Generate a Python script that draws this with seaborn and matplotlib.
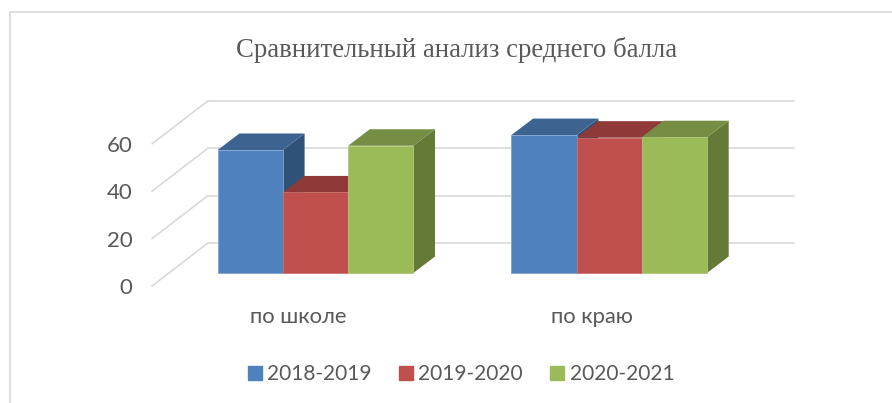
import numpy as np
import pandas as pd
import matplotlib
matplotlib.use("Agg")
import matplotlib.pyplot as plt
from matplotlib.lines import Line2D
from matplotlib.patches import Polygon
import seaborn as sns

title = "Сравнительный анализ среднего балла"
groups = ["по школе", "по краю"]
years = ["2018-2019", "2019-2020", "2020-2021"]
scores_2018 = [51.9, 58.2]
scores_2019 = [34.0, 57.1]
scores_2020 = [53.7, 57.3]
y_ticks = [0, 20, 40, 60]

front_colors = ["#4F81BD", "#C0504D", "#9BBB59"]
top_colors = ["#3D6391", "#8F3A38", "#768E44"]
side_colors = ["#305279", "#7E312F", "#667A38"]
edge_colors = ["#7FA3CF", "#CC6E6B", "#AEC878"]
text_color = "#595959"
grid_color = "#D9D9D9"

W, H = 892, 403
PX_PER_UNIT = 2.37
PX_PER_GROUP = 293.7

sns.set_theme(style="white")
plt.rcParams["font.family"] = ["Lato", "Open Sans", "DejaVu Sans"]

df = pd.DataFrame({
    "group": groups * 3,
    "year": np.repeat(years, 2),
    "score": scores_2018 + scores_2019 + scores_2020,
})

fig = plt.figure(figsize=(W / 100, H / 100), dpi=100, facecolor="white")
# plot area in pixels: floor front edge at y=286, back wall top at y=100
ax = fig.add_axes([152 / W, (H - 286) / H, 642 / W, 186 / H])

sns.barplot(data=df, x="group", y="score", hue="year", palette=front_colors,
            width=0.666, gap=0, saturation=1, errorbar=None, ax=ax, zorder=3)

ax.set_xlim((152 - 315.5) / PX_PER_GROUP, (794 - 315.5) / PX_PER_GROUP)
ax.set_ylim(-13 / PX_PER_UNIT, 173 / PX_PER_UNIT)

# fake 3d: depth of the bars and of the floor, in data units
bar_dx, bar_dy = 21.7 / PX_PER_GROUP, 16.5 / PX_PER_UNIT
front_y = -13 / PX_PER_UNIT
wall_y = 30 / PX_PER_UNIT
wall_x = ax.get_xlim()[0] + 56 / PX_PER_GROUP

for v in y_ticks:
    ax.plot([ax.get_xlim()[0], wall_x], [front_y + v, wall_y + v],
            color=grid_color, lw=1.2, zorder=1, clip_on=False)
    ax.plot([wall_x, ax.get_xlim()[1]], [wall_y + v, wall_y + v],
            color=grid_color, lw=1.2, zorder=1, clip_on=False)

for i, container in enumerate(ax.containers):
    for bar in container:
        x0, x1 = bar.get_x(), bar.get_x() + bar.get_width()
        h = bar.get_height()
        top = [(x0, h), (x1, h), (x1 + bar_dx, h + bar_dy), (x0 + bar_dx, h + bar_dy)]
        side = [(x1, 0), (x1 + bar_dx, bar_dy), (x1 + bar_dx, h + bar_dy), (x1, h)]
        ax.add_patch(Polygon(side, color=side_colors[i], lw=0, zorder=2))
        ax.add_patch(Polygon(top, color=top_colors[i], lw=0, zorder=2))
        bar.set_edgecolor(edge_colors[i])
        bar.set_linewidth(0.6)

sns.despine(ax=ax, left=True, bottom=True)
ax.set_xlabel("")
ax.set_ylabel("")
ax.set_yticks([front_y + v for v in y_ticks], [str(v) for v in y_ticks])
ax.set_xticks(np.arange(len(groups)) - 0.06, groups)
ax.tick_params(axis="y", length=0, pad=14, labelsize=16, labelcolor=text_color)
ax.tick_params(axis="x", length=0, pad=15, labelsize=15.8, labelcolor=text_color)

handles = [plt.Rectangle((0, 0), 1, 1, color=c) for c in front_colors]
ax.legend(handles, years, ncol=3, frameon=False, loc="center",
          bbox_to_anchor=(461 / W, 1 - 374 / H), bbox_transform=fig.transFigure,
          fontsize=15, labelcolor=text_color, handlelength=0.67, handleheight=0.67,
          handletextpad=0.27, columnspacing=1.3, borderpad=0, borderaxespad=0)

fig.text(456.5 / W, 1 - 50 / H, title, ha="center", va="center", fontsize=19.3,
         family="Liberation Serif", color=text_color)

# chart frame, only top and left are inside the crop
fig.add_artist(Line2D([10 / W, 10 / W], [0, 1 - 12 / H], color=grid_color, lw=1.2))
fig.add_artist(Line2D([10 / W, 1], [1 - 12 / H, 1 - 12 / H], color=grid_color, lw=1.2))

fig.savefig("out.png", dpi=100)
